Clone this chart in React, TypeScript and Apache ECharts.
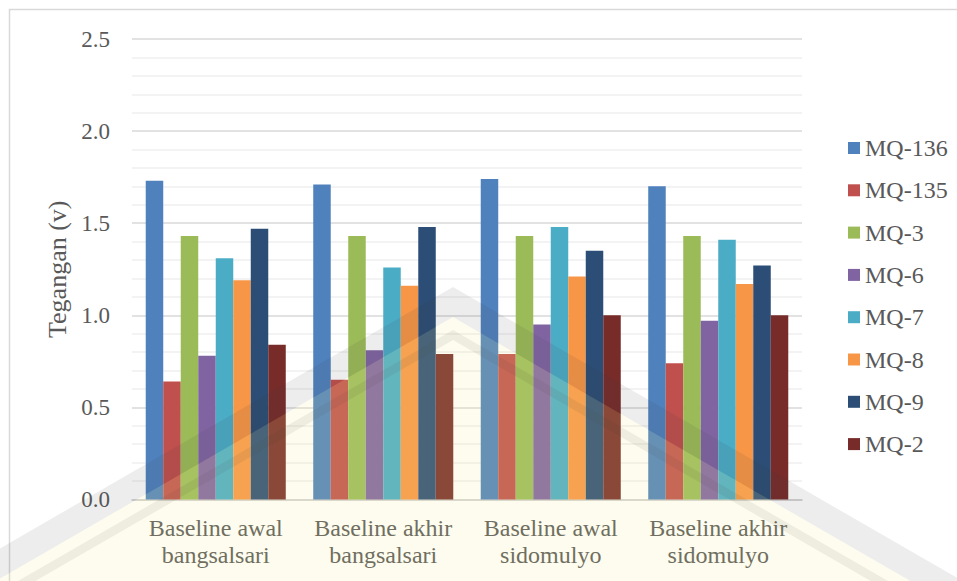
import React, { useEffect, useRef } from "react";
import * as echarts from "echarts";

// Sensor voltages (V) per measurement session
const categories = [
  "Baseline awal\nbangsalsari",
  "Baseline akhir\nbangsalsari",
  "Baseline awal\nsidomulyo",
  "Baseline akhir\nsidomulyo",
];
const seriesNames = ["MQ-136", "MQ-135", "MQ-3", "MQ-6", "MQ-7", "MQ-8", "MQ-9", "MQ-2"];
const mq136 = [1.73, 1.71, 1.74, 1.7];
const mq135 = [0.64, 0.65, 0.79, 0.74];
const mq3 = [1.43, 1.43, 1.43, 1.43];
const mq6 = [0.78, 0.81, 0.95, 0.97];
const mq7 = [1.31, 1.26, 1.48, 1.41];
const mq8 = [1.19, 1.16, 1.21, 1.17];
const mq9 = [1.47, 1.48, 1.35, 1.27];
const mq2 = [0.84, 0.79, 1.0, 1.0];
const seriesValues = [mq136, mq135, mq3, mq6, mq7, mq8, mq9, mq2];
const palette = ["#4F81BD", "#C0504D", "#9BBB59", "#8064A2", "#4BACC6", "#F79646", "#2C4D75", "#772C2A"];

const FONT = "Liberation Serif";
const TEXT = "#595959";

// Roof-shaped repository watermark drawn over the chart
const apexX = 453;
const slope = 0.577;
const roof = (apexY: number) => {
  const l = -200;
  const r = 1200;
  return {
    left: [l, apexY + (apexX - l) * slope],
    apex: [apexX, apexY],
    right: [r, apexY + (r - apexX) * slope],
  };
};
const band = (top: number, bottom: number) => {
  const a = roof(top);
  const b = roof(bottom);
  return [a.left, a.apex, a.right, b.right, b.apex, b.left];
};
const inner = roof(317);

export default function App() {
  const ref = useRef<HTMLDivElement>(null);

  useEffect(() => {
    document.body.style.margin = "0";
    if (!ref.current) return;
    const chart = echarts.init(ref.current, null, { renderer: "svg" });
    chart.setOption({
      animation: false,
      backgroundColor: "#ffffff",
      textStyle: { fontFamily: FONT },
      color: palette,
      grid: { left: 132, right: 155, top: 39, bottom: 81.5 },
      legend: {
        orient: "vertical",
        left: 843,
        top: 131,
        icon: "rect",
        itemWidth: 12,
        itemHeight: 12,
        itemGap: 18.3,
        textStyle: { fontFamily: FONT, fontSize: 24, color: TEXT, lineHeight: 24 },
        data: seriesNames,
      },
      xAxis: {
        type: "category",
        data: categories,
        axisLine: { show: true, lineStyle: { color: "#d0d0d0", width: 1.5 } },
        axisTick: { show: false },
        axisLabel: {
          fontFamily: FONT,
          fontSize: 24,
          color: TEXT,
          lineHeight: 27,
          margin: 15,
          interval: 0,
        },
      },
      yAxis: {
        type: "value",
        min: 0,
        max: 2.5,
        interval: 0.5,
        name: "Tegangan (v)",
        nameLocation: "middle",
        nameRotate: 90,
        nameGap: 58,
        nameTextStyle: { fontFamily: FONT, fontSize: 26, color: TEXT },
        axisLine: { show: false },
        axisTick: { show: false },
        axisLabel: {
          fontFamily: FONT,
          fontSize: 23,
          color: TEXT,
          margin: 22,
          formatter: (v: number) => v.toFixed(1),
        },
        splitLine: { show: true, lineStyle: { color: "#d9d9d9", width: 1.5 } },
        minorTick: { show: false, splitNumber: 5 },
        minorSplitLine: { show: true, lineStyle: { color: "#efefef", width: 1.5 } },
      },
      series: seriesNames.map((name, i) => ({
        name,
        type: "bar",
        data: seriesValues[i],
        barGap: "0%",
        barCategoryGap: "16.4%",
        itemStyle: { color: palette[i] },
      })),
      graphic: [
        {
          type: "rect",
          z: -1,
          silent: true,
          shape: { x: 9.5, y: 9.5, width: 1200, height: 1200 },
          style: { fill: "none", stroke: "#d9d9d9", lineWidth: 1.5 },
        },
        {
          type: "polygon",
          z: 100,
          silent: true,
          shape: {
            points: [inner.left, inner.apex, inner.right, [1200, 1200], [-200, 1200]],
          },
          style: { fill: "rgba(242,235,142,0.15)" },
        },
        {
          type: "polygon",
          z: 101,
          silent: true,
          shape: { points: band(287, 317) },
          style: { fill: "rgba(60,60,60,0.09)" },
        },
        {
          type: "polygon",
          z: 101,
          silent: true,
          shape: { points: band(330, 340) },
          style: { fill: "rgba(60,60,60,0.08)" },
        },
      ],
    });
    return () => chart.dispose();
  }, []);

  return <div ref={ref} style={{ width: 957, height: 581 }} />;
}
